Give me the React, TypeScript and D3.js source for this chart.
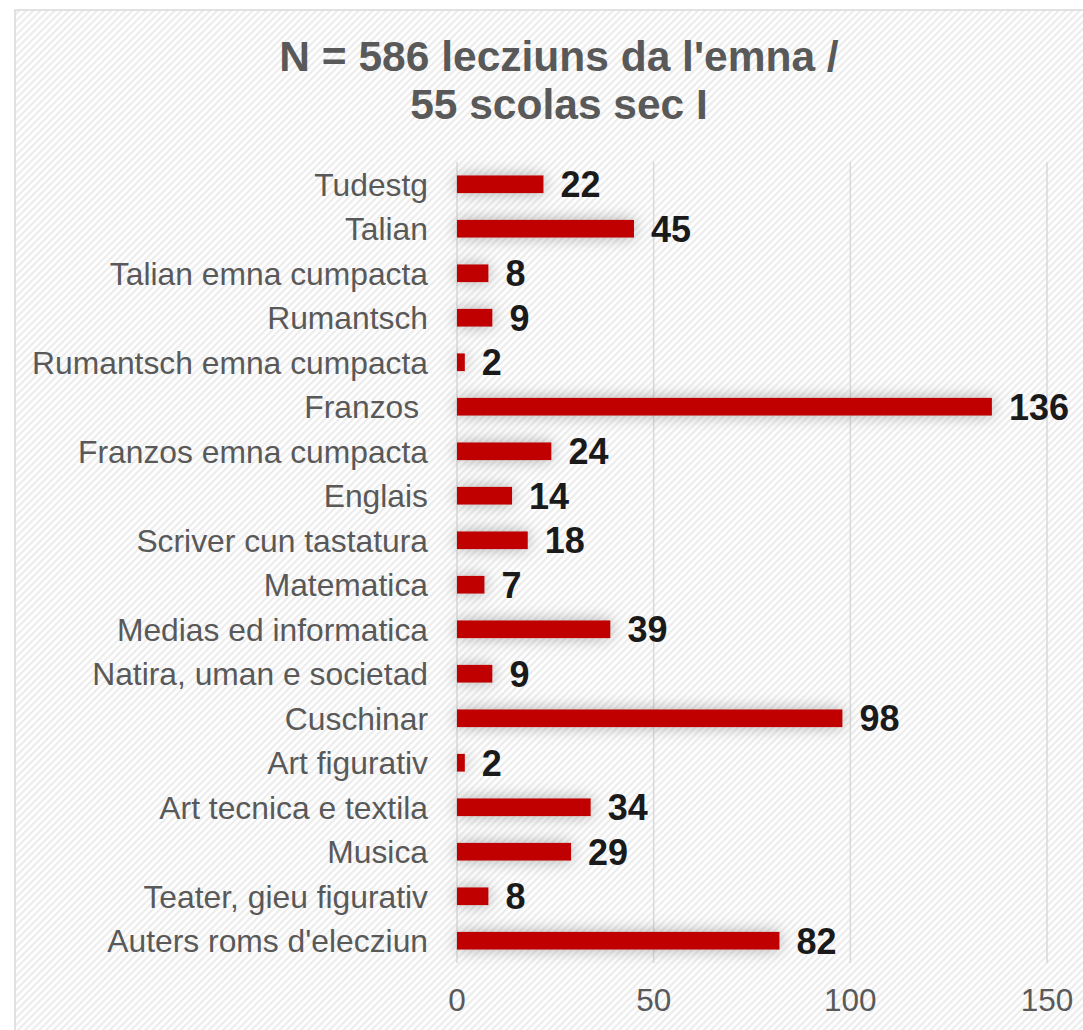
import React from "react";
import * as d3 from "d3";

const categories = [
  "Tudestg",
  "Talian",
  "Talian emna cumpacta",
  "Rumantsch",
  "Rumantsch emna cumpacta",
  "Franzos ",
  "Franzos emna cumpacta",
  "Englais",
  "Scriver cun tastatura",
  "Matematica",
  "Medias ed informatica",
  "Natira, uman e societad",
  "Cuschinar",
  "Art figurativ",
  "Art tecnica e textila",
  "Musica",
  "Teater, gieu figurativ",
  "Auters roms d'elecziun",
];
const values = [22, 45, 8, 9, 2, 136, 24, 14, 18, 7, 39, 9, 98, 2, 34, 29, 8, 82];
const xTicks = [0, 50, 100, 150];
const titleLines = ["N = 586 lecziuns da l'emna /", "55 scolas sec I"];

const FONT = "'Liberation Sans', Arial, Helvetica, sans-serif";

export default function App() {
  const W = 1083;
  const H = 1030;
  const x = d3.scaleLinear().domain([0, 150]).range([457, 1047]);
  const y = d3
    .scaleBand<string>()
    .domain(categories)
    .range([162, 963])
    .paddingInner(0.6)
    .paddingOuter(0.3);
  const bw = y.bandwidth();

  return (
    <svg
      width={W}
      height={H}
      style={{ position: "absolute", left: 0, top: 0, display: "block" }}
      fontFamily={FONT}
    >
      <defs>
        <pattern
          id="stripes"
          width={5}
          height={5}
          patternUnits="userSpaceOnUse"
          patternTransform="rotate(45)"
        >
          <rect width={5} height={5} fill="#ffffff" />
          <rect width={2.2} height={5} fill="#ececec" />
        </pattern>
        <filter id="shadow" x="-20%" y="-200%" width="140%" height="500%">
          <feDropShadow dx={0} dy={0} stdDeviation={8} floodColor="#7f7f7f" floodOpacity={0.6} />
        </filter>
      </defs>
      <rect x={0} y={0} width={W} height={H} fill="#ffffff" />
      <rect
        x={15}
        y={10}
        width={1100}
        height={1050}
        fill="url(#stripes)"
        stroke="#d9d9d9"
        strokeWidth={1.5}
      />
      {/* title */}
      {titleLines.map((t, i) => (
        <text
          key={i}
          x={559}
          y={71 + i * 48}
          textAnchor="middle"
          fontSize={42.5}
          fontWeight="bold"
          fill="#595959"
        >
          {t}
        </text>
      ))}
      {/* gridlines */}
      {xTicks.map((t) => (
        <line
          key={t}
          x1={x(t)}
          x2={x(t)}
          y1={162}
          y2={963}
          stroke="#d9d9d9"
          strokeWidth={1.5}
        />
      ))}
      {/* tick labels */}
      {xTicks.map((t) => (
        <text
          key={"l" + t}
          x={x(t)}
          y={1011}
          textAnchor="middle"
          fontSize={31.5}
          fill="#595959"
        >
          {t}
        </text>
      ))}
      {/* bars */}
      <g filter="url(#shadow)">
        {categories.map((c, i) => (
          <rect
            key={c}
            x={x(0)}
            y={y(c)!}
            width={x(values[i]) - x(0)}
            height={bw}
            fill="#c00000"
          />
        ))}
      </g>
      {/* category labels */}
      {categories.map((c) => (
        <text
          key={"c" + c}
          x={428}
          y={y(c)! + bw / 2}
          dy="0.36em"
          textAnchor="end"
          fontSize={31.8}
          fill="#595959"
          style={{ whiteSpace: "pre" }}
        >
          {c}
        </text>
      ))}
      {/* value labels */}
      {categories.map((c, i) => (
        <text
          key={"v" + c}
          x={x(values[i]) + 17}
          y={y(c)! + bw / 2}
          dy="0.36em"
          fontSize={36}
          fontWeight="bold"
          fill="#1a1a1a"
        >
          {values[i]}
        </text>
      ))}
    </svg>
  );
}
